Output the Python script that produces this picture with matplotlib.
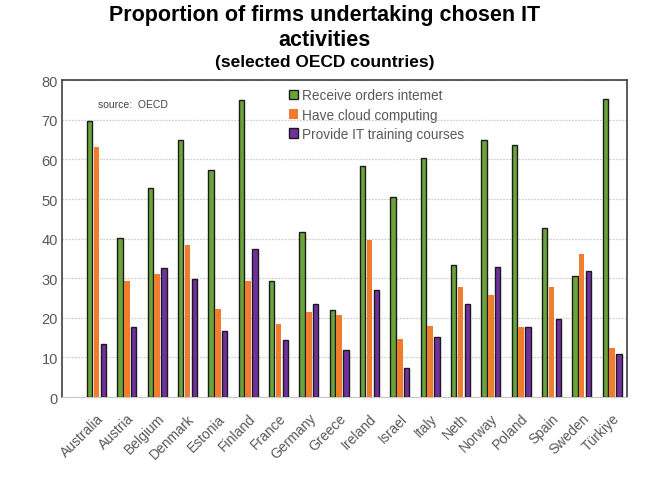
import numpy as np
import matplotlib
matplotlib.use("Agg")
import matplotlib.pyplot as plt

plt.rcParams['font.family'] = ['Liberation Sans', 'DejaVu Sans']

countries = ['Australia', 'Austria', 'Belgium', 'Denmark', 'Estonia', 'Finland',
             'France', 'Germany', 'Greece', 'Ireland', 'Israel', 'Italy', 'Neth',
             'Norway', 'Poland', 'Spain', 'Sweden', 'Türkiye']
orders = [69.8, 40.1, 52.9, 64.9, 57.4, 75.0, 29.2, 41.6, 22.0, 58.4, 50.5,
          60.3, 33.3, 64.8, 63.7, 42.7, 30.6, 75.3]
cloud = [63.1, 29.3, 31.1, 38.4, 22.2, 29.3, 18.4, 21.4, 20.6, 39.7, 14.6,
         18.0, 27.7, 25.8, 17.6, 27.7, 36.0, 12.3]
training = [13.4, 17.6, 32.6, 29.9, 16.7, 37.4, 14.5, 23.5, 11.9, 26.9, 7.4,
            15.2, 23.5, 32.8, 17.6, 19.7, 31.7, 10.8]

green = '#6aa33a'
orange = '#ef7d2d'
purple = '#7030a0'
grey = '#595959'

fig = plt.figure(figsize=(6.49, 4.89), dpi=100)
ax = fig.add_axes([0.0955, 0.186, 0.871, 0.648])

x = np.arange(len(countries))
w = 0.18
off = 0.225
ax.bar(x - off, orders, w, color=green, edgecolor='#1a1a1a', linewidth=1.0,
       label='Receive orders intemet', zorder=3)
ax.bar(x, cloud, w, color=orange, linewidth=0,
       label='Have cloud computing', zorder=3)
ax.bar(x + off, training, w, color=purple, edgecolor='#1a1a1a', linewidth=1.0,
       label='Provide IT training courses', zorder=3)

ax.set_ylim(0, 80)
ax.set_xlim(-1.14, 17.5)
ax.set_yticks(range(0, 81, 10))
ax.yaxis.grid(True, color='#d0d0d0', linestyle=(0, (1.5, 1)), linewidth=0.9, zorder=0)
ax.set_axisbelow(True)

ax.set_xticks(x)
ax.set_xticklabels(countries, rotation=45, ha='right', rotation_mode='anchor',
                   fontsize=10, color=grey)
ax.tick_params(axis='y', labelsize=10.5, labelcolor=grey, length=0, pad=3)
ax.tick_params(axis='x', length=0, pad=10)

for s in ['left', 'top', 'right']:
    ax.spines[s].set_color('#404040')
    ax.spines[s].set_linewidth(1.2)
ax.spines['bottom'].set_color('#c8c8c8')

ax.text(0.063, 0.924, 'source:  OECD', transform=ax.transAxes, fontsize=7.5,
        color='#404040', va='center')

leg = ax.legend(loc='upper left', bbox_to_anchor=(0.387, 1.0), frameon=False,
                fontsize=9.8, handlelength=0.7, handleheight=0.7,
                handletextpad=0.25, labelspacing=0.38, borderaxespad=0.2)
for t in leg.get_texts():
    t.set_color(grey)

fig.text(0.5, 0.957, 'Proportion of firms undertaking chosen IT',
         ha='center', va='baseline', fontsize=15.5, fontweight='bold')
fig.text(0.5, 0.905, 'activities',
         ha='center', va='baseline', fontsize=15.5, fontweight='bold')
fig.text(0.5, 0.864, '(selected OECD countries)', ha='center', va='baseline',
         fontsize=12.5, fontweight='bold')

fig.savefig('out.png', dpi=100)
